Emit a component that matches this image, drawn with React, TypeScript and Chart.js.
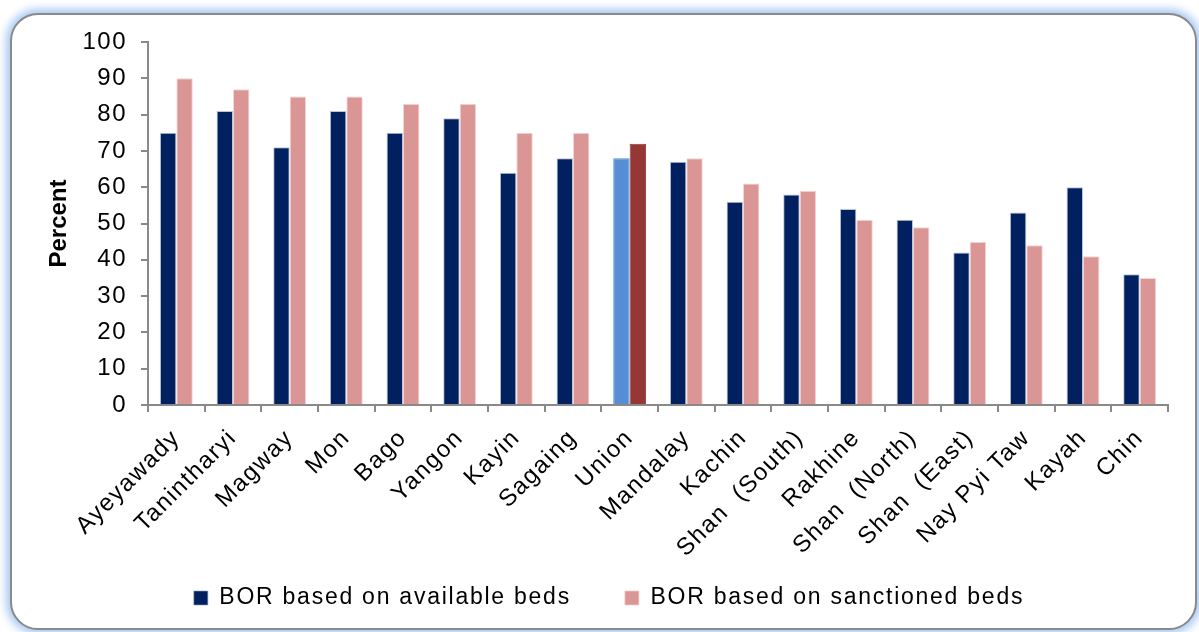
import React, { useEffect, useRef } from 'react';
import { Chart, registerables } from 'chart.js';

Chart.register(...registerables);

const categories = [
  'Ayeyawady', 'Tanintharyi', 'Magway', 'Mon', 'Bago', 'Yangon', 'Kayin', 'Sagaing', 'Union',
  'Mandalay', 'Kachin', 'Shan  (South)', 'Rakhine', 'Shan  (North)', 'Shan  (East)', 'Nay Pyi Taw',
  'Kayah', 'Chin',
];
const availableBeds = [75, 81, 71, 81, 75, 79, 64, 68, 68, 67, 56, 58, 54, 51, 42, 53, 60, 36];
const sanctionedBeds = [90, 87, 85, 85, 83, 83, 75, 75, 72, 68, 61, 59, 51, 49, 45, 44, 41, 35];
const seriesLabels = ['BOR based on available beds', 'BOR based on sanctioned beds'];
const highlightCategory = 'Union';
const yMin = 0;
const yMax = 100;
const yStep = 10;

const FONT = "'Liberation Sans', Arial, sans-serif";
const AXIS = '#898989';

function withSpacing(obj: any, method: string, spacing: string, dx = 0, dy = 0) {
  const orig = obj[method].bind(obj);
  obj[method] = (...args: any[]) => {
    const c = obj.ctx;
    c.save();
    c.letterSpacing = spacing;
    if (dx || dy) c.translate(dx, dy);
    const r = orig(...args);
    c.restore();
    return r;
  };
}

export default function App() {
  const ref = useRef<HTMLCanvasElement | null>(null);

  useEffect(() => {
    if (!ref.current) return;
    const pick = (normal: string, hi: string) => (c: any) =>
      categories[c.dataIndex] === highlightCategory ? hi : normal;

    const chart = new Chart(ref.current, {
      type: 'bar',
      data: {
        labels: categories,
        datasets: [
          {
            label: seriesLabels[0],
            data: availableBeds,
            backgroundColor: pick('#002060', '#558ED5'),
            borderColor: pick('rgba(140,155,190,0.6)', '#558ED5'),
            borderWidth: 1,
          },
          {
            label: seriesLabels[1],
            data: sanctionedBeds,
            backgroundColor: pick('#D99694', '#953735'),
            borderColor: pick('rgba(245,200,200,0.8)', '#953735'),
            borderWidth: 1,
          },
        ],
      },
      options: {
        responsive: false,
        animation: false,
        devicePixelRatio: 1,
        layout: { padding: { top: 42, right: 31, bottom: 0, left: 0 } },
        datasets: { bar: { categoryPercentage: 0.58, barPercentage: 1 } },
        plugins: {
          legend: {
            position: 'bottom',
            labels: {
              boxWidth: 14,
              boxHeight: 14,
              padding: 54,
              color: '#000',
              font: { family: FONT, size: 23 },
            },
          },
          tooltip: { enabled: false },
        },
        scales: {
          x: {
            grid: {
              display: true,
              drawOnChartArea: false,
              drawTicks: true,
              tickLength: 7,
              color: AXIS,
              lineWidth: 2,
              offset: true,
            },
            border: { display: true, color: AXIS, width: 2 },
            ticks: {
              autoSkip: false,
              maxRotation: 45,
              minRotation: 45,
              padding: 12,
              color: '#000',
              font: { family: FONT, size: 24 },
            },
            afterFit: (s: any) => {
              s.height = 160;
            },
          },
          y: {
            min: yMin,
            max: yMax,
            ticks: {
              stepSize: yStep,
              padding: 14,
              color: '#000',
              font: { family: FONT, size: 24 },
            },
            grid: {
              drawOnChartArea: false,
              drawTicks: true,
              tickLength: 7,
              color: AXIS,
              lineWidth: 2,
            },
            border: { display: true, color: AXIS, width: 2 },
            title: {
              display: true,
              text: 'Percent',
              color: '#000',
              font: { family: FONT, size: 24, weight: 'bold' },
              padding: { top: 44.6, bottom: 0 },
            },
            afterFit: (s: any) => {
              s.width = 148;
            },
          },
        },
      },
    } as any);

    const lg: any = (chart as any).legend;
    if (lg) {
      withSpacing(lg, 'fit', '1.75px');
      withSpacing(lg, 'draw', '1.75px', 25, -32.5);
    }
    const xs: any = chart.scales.x;
    const ys: any = chart.scales.y;
    if (xs) withSpacing(xs, 'drawLabels', '1.5px');
    if (ys) withSpacing(ys, 'drawLabels', '1.5px');
    chart.update();

    return () => chart.destroy();
  }, []);

  return (
    <div
      style={{
        position: 'fixed',
        left: 0,
        top: 0,
        width: 1199,
        height: 632,
        overflow: 'hidden',
        background: '#fff',
      }}
    >
      <div
        style={{
          position: 'absolute',
          left: 10,
          top: 13,
          width: 1187,
          height: 617,
          boxSizing: 'border-box',
          border: '2px solid #8a8a8a',
          borderRadius: 28,
          background: '#fff',
          boxShadow: '0 0 9px 4px rgba(150,190,240,0.85)',
        }}
      />
      <canvas
        ref={ref}
        width={1199}
        height={652}
        style={{ position: 'absolute', left: 0, top: 0, width: 1199, height: 652 }}
      />
    </div>
  );
}
